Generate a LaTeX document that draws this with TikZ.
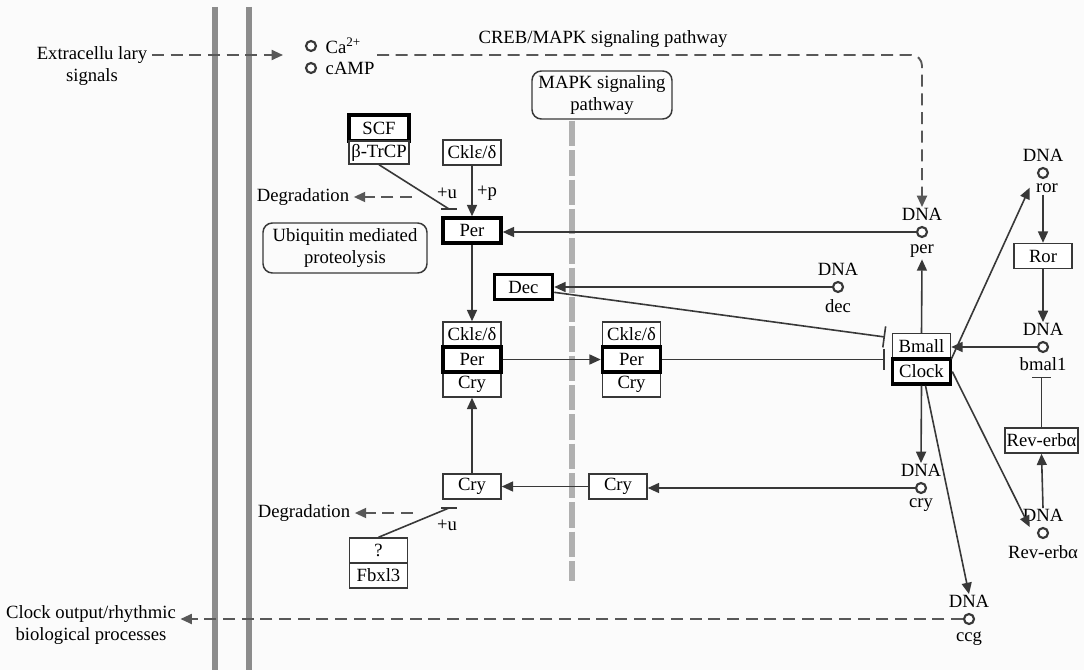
\documentclass[tikz,border=0pt]{standalone}
\usepackage{fontspec}
\setmainfont{Liberation Serif}
\usetikzlibrary{arrows.meta,positioning}
\definecolor{clkline}{HTML}{383838}
\definecolor{clkdash}{HTML}{585858}
\definecolor{clkwall}{HTML}{8C8C8C}
\definecolor{clkmapk}{HTML}{B0B0B0}
\definecolor{clkpaper}{HTML}{FBFBFB}

\begin{document}
\begin{tikzpicture}[x=0.75pt,y=-0.75pt,
    font=\fontsize{14}{16.5}\selectfont,
    prot/.style={draw=clkline,line width=1.1pt,fill=white,minimum width=43.5pt,minimum height=18.75pt,inner sep=1pt},
    key/.style={prot,draw=black,line width=2.6pt},
    gene/.style={circle,draw=clkline,line width=1.6pt,fill=white,minimum size=7.5pt,inner sep=0pt},
    lab/.style={inner sep=1pt,label distance=2.5pt},
    pwbox/.style={draw=clkline,line width=1.1pt,rounded corners=7pt,align=center,inner sep=2pt},
    link/.style={draw=clkline,line width=1.2pt},
    act/.style={link,-{Triangle[length=8.5pt,width=7.5pt]}},
    inh/.style={link,-{Bar[width=16pt,line width=1.2pt]}},
    sig/.style={draw=clkdash,line width=1.4pt,dash pattern=on 9pt off 5pt},
    sigarrow/.style={sig,-{Triangle[length=8.5pt,width=7.5pt]}},
    wall/.style={draw=clkwall,line width=4.5pt}]
  \fill[clkpaper] (0,0) rectangle (1084,670);
  \useasboundingbox (0,0) rectangle (1084,670);

  % cell membrane and MAPK track
  \draw[wall] (215,7) -- (215,670);
  \draw[wall] (249,7) -- (249,670);
  \node[pwbox,minimum width=105pt,minimum height=36pt] (mapk) at (602,95) {MAPK signaling\\pathway};
  \draw[draw=clkmapk,line width=5pt,dash pattern=on 19pt off 3pt] (572,121) -- (572,581);

  % input signals
  \node[align=center] (ext) at (92,66) {Extracellu lary\\signals};
  \node[gene] (ca) at (311,46) {};
  \node[gene] (camp) at (311,68) {};
  \node[anchor=west] (catext) at (321,46) {Ca\textsuperscript{2+}};
  \node[anchor=west] (camptext) at (321,68) {cAMP};
  \node (creb) at (603,39) {CREB/MAPK signaling pathway};
  \coordinate (sigin) at (283,55);
  \coordinate (crebin) at (377,55);

  % DNA sites
  \node[gene,label={[lab,name=lper]above:DNA},label={[lab,name=lpers,label distance=4pt]below:per}] (gper) at (922,232) {};
  \node[gene,label={[lab,name=ldec]above:DNA},label={[lab,name=ldecs,label distance=4pt]below:dec}] (gdec) at (838,287) {};
  \node[gene,label={[lab,name=lror]above:DNA},label={[lab,name=lrors,xshift=3pt]below:ror}] (gror) at (1043,173) {};
  \node[gene,label={[lab,name=lbmal]above:DNA},label={[lab,name=lbmals]below:bmal1}] (gbmal) at (1043,347) {};
  \node[gene,label={[lab,name=lcry]above:DNA},label={[lab,name=lcrys]below:cry}] (gcry) at (921,488) {};
  \node[gene,label={[lab,name=lrev]above:DNA},label={[lab,name=lrevs,label distance=4pt]below:Rev-erbα}] (grev) at (1043,533) {};
  \node[gene,label={[lab,name=lccg]above:DNA},label={[lab,name=lccgs,label distance=4pt]below:ccg}] (gccg) at (969,619) {};

  % proteins
  \node[key,minimum width=45pt,minimum height=19.5pt] (scf) at (379,128) {SCF};
  \node[prot,minimum width=45pt,minimum height=17.25pt] (btrcp) at (379,152.5) {β-TrCP};
  \node[prot] (ckp) at (472,152.5) {Cklε/δ};
  \node[key] (per) at (472,230.5) {Per};
  \node[key] (dec) at (523.5,287) {Dec};
  \node[prot] (c1k) at (472,334.5) {Cklε/δ};
  \node[prot] (c1c) at (472,384.5) {Cry};
  \node[key] (c1p) at (472,359.5) {Per};
  \node[prot] (c2k) at (631.5,334.5) {Cklε/δ};
  \node[prot] (c2c) at (631.5,384.5) {Cry};
  \node[key] (c2p) at (631.5,359.5) {Per};
  \node[prot] (bmal) at (921.5,346) {Bmall};
  \node[key] (clock) at (921.5,371.5) {Clock};
  \node[prot] (ror) at (1043,256) {Ror};
  \node[prot,minimum width=55pt] (rev) at (1041.5,440.5) {Rev-erbα};
  \node[prot] (cry1) at (472,486.5) {Cry};
  \node[prot] (cry2) at (618,486.5) {Cry};
  \node[prot] (qbox) at (378.5,550.5) {?};
  \node[prot] (fbx) at (378.5,575.5) {Fbxl3};

  % degradation side
  \node (deg1) at (303,197) {Degradation};
  \node (deg2) at (304,513) {Degradation};
  \node[pwbox,minimum width=123pt,minimum height=37.5pt] (ubq) at (345,248) {Ubiquitin mediated\\proteolysis};
  \node (pu1) at (447,193) {+u};
  \node (pp) at (487,193) {+p};
  \node (pu2) at (447,525) {+u};
  \coordinate (ubq1) at (449,209);
  \coordinate (ubq2) at (449,508);
  \coordinate (dg1) at (412,197);
  \coordinate (dg2) at (413,513);
  \node[align=center] (cout) at (91,625) {Clock output/rhythmic\\biological processes};
  \coordinate (bminh) at (885,337);

  % signalling
  \draw[sigarrow] (ext.east |- sigin) -- (sigin);
  \draw[sigarrow,rounded corners=8pt] (crebin) -| (lper.north);
  \draw[sigarrow] (gccg.west) -- (cout.east |- gccg);
  \draw[sigarrow] (dg1) -- (deg1.east);
  \draw[sigarrow] (dg2) -- (deg2.east);

  % ubiquitination
  \draw[link] (btrcp.south) -- (ubq1);
  \draw[link] ([xshift=-6pt]ubq1) -- ([xshift=6pt]ubq1);
  \draw[link] (qbox.north) -- (ubq2);
  \draw[link] ([xshift=-6pt]ubq2) -- ([xshift=6pt]ubq2);

  % core loop
  \draw[act] (ckp) -- (per);
  \draw[act] (gper.west) -- (gper.west -| per.east);
  \draw[act] (per) -- (c1k);
  \draw[act] (c1p) -- (c2p);
  \draw[act] (gdec.west) -- (gdec.west -| dec.east);
  \draw[inh] ([yshift=-4pt]dec.east) -- (bminh);
  \draw[inh] (c2p.east) -- (c2p.east -| bminh);
  \draw[act] (bmal.north) -- (lpers.south);
  \draw[act] (bmal.south east) -- ([xshift=-10pt,yshift=-11pt]gror.center);
  \draw[act] (lrors.south -| ror) -- (ror.north);
  \draw[act] (ror.south) -- (lbmal.north);
  \draw[act] (gbmal.west) -- (gbmal.west -| bmal.east);
  \draw[link,-{Bar[width=14pt,line width=1.2pt]}] (rev.north) -- ([yshift=-3pt]lbmals.south -| rev);
  \draw[act] (lrev.north) -- (rev.south);
  \draw[act] (clock.east) -- ([xshift=-10pt,yshift=4.5pt]grev.center);
  \draw[act] (clock.south) -- (lcry.north);
  \draw[act] ([xshift=3pt]clock.south) -- (lccg.north);
  \draw[act] (gcry.west) -- (gcry.west -| cry2.east);
  \draw[act] (cry2) -- (cry1);
  \draw[act] (cry1) -- (c1c);
\end{tikzpicture}
\end{document}
